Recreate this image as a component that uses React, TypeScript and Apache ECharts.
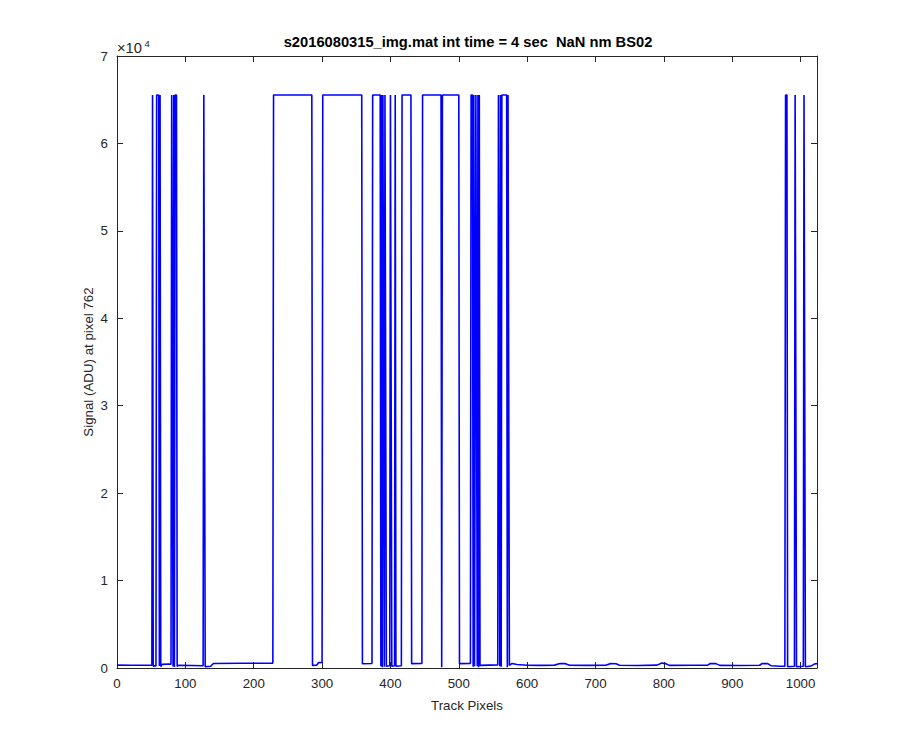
import React, { useEffect, useRef } from "react";
import * as echarts from "echarts";

// Breakpoints of the signal trace (Track pixel, ADU)
const trackPixel: number[] = [
  0, 20, 40, 51, 52, 53, 55, 57, 58, 61, 62, 63, 64, 66, 75, 79,
  80, 81, 82, 83, 84, 85, 87, 88, 90, 110, 126, 127, 128, 129, 137, 141,
  180, 228, 229, 285, 286, 292, 295, 300, 301, 358, 359, 373, 374, 385,
  386, 387, 388, 389, 390, 391, 392, 393, 394, 399, 400, 401, 402, 406,
  407, 408, 416, 417, 430, 431, 446, 447, 474, 475, 476, 500, 501, 517,
  518, 520, 521, 522, 523, 525, 526, 527, 528, 529, 530, 531, 545, 557,
  558, 559, 560, 561, 562, 563, 570, 571, 572, 573, 574, 578, 585, 600,
  620, 640, 648, 656, 662, 690, 715, 722, 730, 735, 760, 790, 797, 802,
  808, 840, 864, 868, 876, 882, 910, 940, 944, 952, 957, 970, 977, 978,
  980, 981, 991, 992, 993, 994, 1004, 1005, 1006, 1007, 1015, 1020, 1024,
];
const signalADU: number[] = [
  330, 310, 320, 320, 65535, 200, 260, 240, 65535, 65535, 220, 65535, 160, 420, 450, 420,
  65535, 65535, 180, 65535, 120, 65535, 65535, 200, 300, 280, 260, 65535, 65535, 150, 200, 520,
  540, 560, 65535, 65535, 300, 320, 620, 640, 65535, 65535, 480, 520, 65535, 65535,
  200, 65535, 100, 65535, 65535, 150, 65535, 65535, 200, 250, 65535, 65535, 200, 250,
  65535, 200, 250, 65535, 65535, 500, 520, 65535, 65535, 100, 65535, 65535, 500, 530,
  65535, 65535, 150, 65535, 200, 65535, 65535, 200, 65535, 100, 65535, 300, 330, 350,
  65535, 65535, 200, 65535, 150, 65535, 65535, 100, 65535, 65535, 300, 520, 400, 320,
  300, 330, 520, 500, 320, 300, 320, 500, 480, 310, 290, 330, 560, 520,
  300, 310, 330, 520, 500, 300, 290, 320, 520, 500, 250, 200, 200, 65535,
  65535, 150, 200, 65535, 65535, 150, 200, 65535, 65535, 150, 220, 450, 500,
];

const xTicks = [0, 100, 200, 300, 400, 500, 600, 700, 800, 900, 1000];
const yTickLabels = ["0", "1", "2", "3", "4", "5", "6", "7"];

const titleText = "s2016080315_img.mat int time = 4 sec  NaN nm BS02";
const xLabel = "Track Pixels";
const yLabel = "Signal (ADU) at pixel 762";
const exponentBase = "×10";
const exponentPower = "4";

const FONT = "'Liberation Sans', Arial, Helvetica, sans-serif";
const AX = "#262626";

export default function App() {
  const ref = useRef<HTMLDivElement>(null);
  useEffect(() => {
    if (!ref.current) return;
    const chart = echarts.init(ref.current, undefined, { renderer: "svg" });
    const data = trackPixel.map((x, i) => [x, signalADU[i]]);
    const axisCommon = {
      type: "value" as const,
      axisLine: { show: true, onZero: false, lineStyle: { color: AX, width: 1 } },
      axisTick: { show: true, inside: true, length: 6, lineStyle: { color: AX, width: 1 } },
      splitLine: { show: false },
    };
    chart.setOption({
      animation: false,
      backgroundColor: "#ffffff",
      grid: { left: 117, right: 83, top: 56, bottom: 82, containLabel: false },
      xAxis: [
        {
          ...axisCommon,
          position: "bottom",
          min: 0,
          max: 1024,
          interval: 100,
          axisLabel: {
            color: AX,
            fontFamily: FONT,
            fontSize: 13.3,
            margin: 9,
            formatter: (v: number) => (xTicks.includes(v) ? String(v) : ""),
          },
        },
        {
          ...axisCommon,
          position: "top",
          min: 0,
          max: 1024,
          interval: 100,
          axisLabel: { show: false },
        },
      ],
      yAxis: [
        {
          ...axisCommon,
          position: "left",
          min: 0,
          max: 70000,
          interval: 10000,
          axisLabel: {
            color: AX,
            fontFamily: FONT,
            fontSize: 13.3,
            margin: 9,
            formatter: (v: number) => yTickLabels[Math.round(v / 10000)] ?? "",
          },
        },
        {
          ...axisCommon,
          position: "right",
          min: 0,
          max: 70000,
          interval: 10000,
          axisLabel: { show: false },
        },
      ],
      series: [
        {
          type: "line",
          xAxisIndex: 0,
          yAxisIndex: 0,
          data,
          symbol: "none",
          lineStyle: { color: "#0000ff", width: 1.6 },
          clip: true,
        },
      ],
      graphic: [
        {
          type: "text",
          x: 468,
          y: 42,
          style: {
            text: titleText,
            fill: "#000000",
            font: `bold 14.7px ${FONT}`,
            align: "center",
            verticalAlign: "middle",
          },
        },
        {
          type: "text",
          x: 467,
          y: 705,
          style: {
            text: xLabel,
            fill: AX,
            font: `13.3px ${FONT}`,
            align: "center",
            verticalAlign: "middle",
          },
        },
        {
          type: "text",
          x: 88,
          y: 362,
          rotation: Math.PI / 2,
          style: {
            text: yLabel,
            fill: AX,
            font: `13.3px ${FONT}`,
            align: "center",
            verticalAlign: "middle",
          },
        },
        {
          type: "text",
          x: 117,
          y: 47.5,
          style: {
            text: exponentBase,
            fill: AX,
            font: `14.7px ${FONT}`,
            align: "left",
            verticalAlign: "middle",
          },
        },
        {
          type: "text",
          x: 144.5,
          y: 43,
          style: {
            text: exponentPower,
            fill: AX,
            font: `9.5px ${FONT}`,
            align: "left",
            verticalAlign: "middle",
          },
        },
      ],
    });
    return () => chart.dispose();
  }, []);
  return (
    <div
      ref={ref}
      style={{ position: "absolute", left: 0, top: 0, width: 900, height: 750, background: "#fff" }}
    />
  );
}
